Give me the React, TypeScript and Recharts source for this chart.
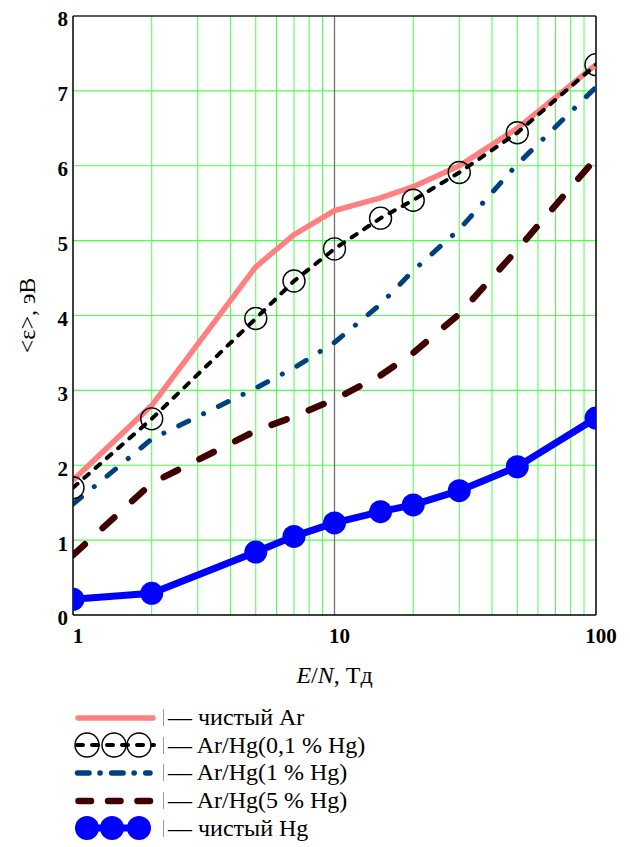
import { LineChart, Line, XAxis, YAxis, ReferenceLine, Label } from "recharts"

// E/N, Td
const energies = [1, 2, 5, 7, 10, 15, 20, 30, 50, 100]
// mean electron energy, eV
const pureAr = [1.8, 2.8, 4.65, 5.08, 5.4, 5.57, 5.72, 6.0, 6.5, 7.35]
const arHg01 = [1.7, 2.62, 3.96, 4.46, 4.89, 5.3, 5.54, 5.91, 6.44, 7.35]
const arHg1 = [1.48, 2.35, 3.03, 3.3, 3.64, 4.15, 4.6, 5.15, 6.02, 7.05]
const arHg5 = [0.8, 1.76, 2.46, 2.65, 2.88, 3.2, 3.5, 4.02, 4.88, 6.1]
const pureHg = [0.21, 0.29, 0.84, 1.05, 1.23, 1.38, 1.47, 1.66, 1.98, 2.63]

const xTicks = [1, 10, 100]
const yTicks = [0, 1, 2, 3, 4, 5, 6, 7, 8]
const minorX = [2, 3, 4, 5, 6, 7, 8, 9, 20, 30, 40, 50, 60, 70, 80, 90]
const gridY = [1, 2, 3, 4, 5, 6, 7]

const legendNames = [
  "чистый Ar",
  "Ar/Hg(0,1 % Hg)",
  "Ar/Hg(1 % Hg)",
  "Ar/Hg(5 % Hg)",
  "чистый Hg",
]

const FONT = "Liberation Serif"
const GREEN = "#4dff4d"

const data = energies.map((e, i) => ({
  e,
  ar: pureAr[i],
  h01: arHg01[i],
  h1: arHg1[i],
  h5: arHg5[i],
  hg: pureHg[i],
}))

const LegendIcon = ({ idx }: { idx: number }) => {
  if (idx === 0)
    return <line x1={8} y1={14} x2={83} y2={14} stroke="#ff8080" strokeWidth={5.5} strokeLinecap="round" />
  if (idx === 1)
    return (
      <g>
        <line x1={7} y1={14} x2={84} y2={14} stroke="#000" strokeWidth={4} strokeDasharray="6 9" strokeLinecap="round" />
        {[17, 44, 69].map((cx) => (
          <circle key={cx} cx={cx} cy={14} r={12} fill="none" stroke="#000" strokeWidth={1.4} />
        ))}
      </g>
    )
  if (idx === 2)
    return <line x1={7.5} y1={14} x2={80} y2={14} stroke="#004080" strokeWidth={5.5} strokeDasharray="11.5 11 0.1 11.5" strokeLinecap="round" />
  if (idx === 3)
    return <line x1={8.5} y1={14} x2={80} y2={14} stroke="#400000" strokeWidth={6.5} strokeDasharray="12.5 17" strokeLinecap="round" />
  return (
    <g>
      <line x1={8} y1={14} x2={80} y2={14} stroke="#0000ff" strokeWidth={7} />
      {[17, 42, 69].map((cx) => (
        <circle key={cx} cx={cx} cy={14} r={12} fill="#0000ff" />
      ))}
    </g>
  )
}

export default function App() {
  return (
    <div style={{ position: "absolute", left: 0, top: 0, width: 630, height: 847, background: "#fff", fontFamily: FONT }}>
      <LineChart width={630} height={847} data={data} margin={{ top: 16, right: 34, left: 23, bottom: 202 }}>
        {minorX.map((v) => (
          <ReferenceLine key={`vx-${v}`} x={v} stroke={GREEN} strokeWidth={1} zIndex={-100} />
        ))}
        {gridY.map((v) => (
          <ReferenceLine key={`hy-${v}`} y={v} stroke={GREEN} strokeWidth={1.2} zIndex={-100} />
        ))}
        <ReferenceLine x={10} stroke="#707070" strokeWidth={1.3} zIndex={-90} />
        <ReferenceLine y={8} stroke="#1c2c1c" strokeWidth={1.5} zIndex={-90} />
        <ReferenceLine x={100} stroke="#000" strokeWidth={1.5} zIndex={-90} />
        <XAxis
          dataKey="e"
          type="number"
          scale="log"
          domain={[1, 100]}
          ticks={xTicks}
          allowDataOverflow
          height={30}
          tickSize={0}
          tickMargin={13}
          axisLine={{ stroke: "#000", strokeWidth: 1.5 }}
          tick={{ fontSize: 21, fontWeight: 700, fill: "#000", fontFamily: FONT, dx: 5 }}
        >
          <Label
            content={({ viewBox }: any) => (
              <text x={viewBox.x + viewBox.width / 2} y={683} textAnchor="middle" fontSize={24} fontFamily={FONT} fill="#000">
                <tspan fontStyle="italic">E</tspan>/<tspan fontStyle="italic">N</tspan>, Тд
              </text>
            )}
          />
        </XAxis>
        <YAxis
          type="number"
          domain={[0, 8]}
          ticks={yTicks}
          width={50}
          tickSize={0}
          tickMargin={5}
          axisLine={{ stroke: "#000", strokeWidth: 1.5 }}
          tick={{ fontSize: 21, fontWeight: 700, fill: "#000", fontFamily: FONT, dy: 3 }}
        >
          <Label
            content={({ viewBox }: any) => {
              const cx = 27
              const cy = viewBox.y + viewBox.height / 2
              return (
                <text x={cx} y={cy} transform={`rotate(-90 ${cx} ${cy})`} textAnchor="middle" dominantBaseline="central" fontSize={24} fontFamily={FONT} fill="#000">
                  {"<ε>, эВ"}
                </text>
              )
            }}
          />
        </YAxis>
        <Line dataKey="ar" stroke="#ff8080" strokeWidth={5.5} dot={false} isAnimationActive={false} />
        <Line
          dataKey="h01"
          stroke="#000"
          strokeWidth={4}
          strokeDasharray="6 9"
          strokeLinecap="round"
          dot={{ r: 11, fill: "none", stroke: "#000", strokeWidth: 1.4, strokeDasharray: "none" }}
          isAnimationActive={false}
        />
        <Line dataKey="h1" stroke="#004080" strokeWidth={5} strokeDasharray="11 16.5 0.1 16.5" strokeLinecap="round" dot={false} isAnimationActive={false} />
        <Line dataKey="h5" stroke="#400000" strokeWidth={6.5} strokeDasharray="16 24" strokeLinecap="round" dot={false} isAnimationActive={false} />
        <Line
          dataKey="hg"
          stroke="#0000ff"
          strokeWidth={7}
          dot={{ r: 11.5, fill: "#0000ff", stroke: "none" }}
          isAnimationActive={false}
        />
      </LineChart>
      <div style={{ position: "absolute", left: 70, top: 704 }}>
        {legendNames.map((name, i) => (
          <div key={name} style={{ display: "flex", alignItems: "center", height: 27.6 }}>
            <svg width={90} height={28}>
              <LegendIcon idx={i} />
            </svg>
            <span style={{ display: "inline-block", width: 1, height: 17, background: "#999", marginLeft: 3, marginRight: 4 }} />
            <span style={{ fontSize: 24, lineHeight: "27px", color: "#000", whiteSpace: "nowrap", fontFamily: FONT }}>— {name}</span>
          </div>
        ))}
      </div>
    </div>
  )
}
